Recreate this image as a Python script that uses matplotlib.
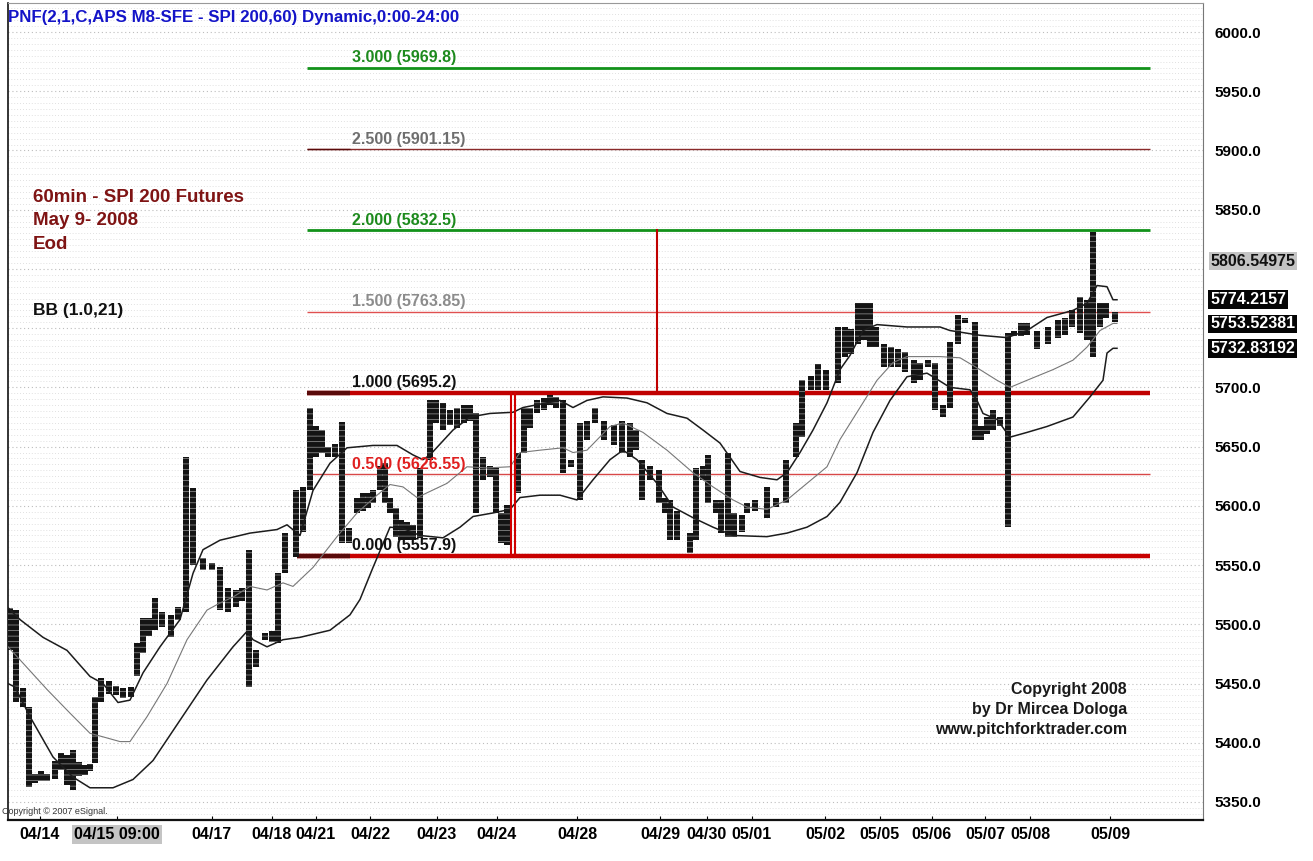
import numpy as np
import matplotlib.pyplot as plt
from matplotlib.transforms import blended_transform_factory

plt.rcParams['font.family'] = ['Liberation Sans', 'DejaVu Sans']

# point & figure columns: position, low, high
col_x = [10, 16, 23, 29, 35, 41, 47, 55, 61, 67, 73, 79, 85, 90, 95, 101, 109, 116, 123, 131,
         137, 143, 149, 155, 162, 171, 178, 186, 193, 203, 212, 220, 228, 236, 242, 249, 256, 265, 272, 278,
         285, 296, 303, 310, 316, 322, 328, 335, 342, 349, 357, 363, 368, 373, 380, 385, 390, 396, 401, 407,
         413, 420, 430, 436, 443, 450, 457, 464, 470, 476, 483, 490, 496, 501, 507, 518, 524, 530, 537, 544,
         550, 556, 563, 571, 580, 587, 595, 604, 614, 622, 630, 636, 642, 650, 659, 665, 670, 677, 690, 696,
         703, 708, 716, 721, 728, 734, 742, 747, 755, 767, 776, 786, 796, 802, 811, 818, 826, 838, 845, 851,
         858, 864, 870, 876, 884, 891, 898, 905, 914, 920, 928, 935, 943, 950, 958, 965, 975, 981, 987, 993,
         1000, 1008, 1014, 1021, 1027, 1037, 1048, 1058, 1065, 1072, 1080, 1087, 1093, 1100, 1106, 1115]
col_lo = [5478, 5434, 5430, 5363, 5366, 5368, 5368, 5369, 5377, 5364, 5360, 5372, 5373, 5376, 5383, 5434, 5441, 5440, 5438, 5439,
          5456, 5476, 5490, 5495, 5498, 5489, 5504, 5510, 5550, 5546, 5546, 5512, 5510, 5515, 5520, 5447, 5464, 5487, 5485, 5484,
          5543, 5557, 5578, 5613, 5641, 5645, 5641, 5641, 5569, 5569, 5594, 5596, 5598, 5602, 5613, 5602, 5594, 5574, 5571, 5571,
          5571, 5573, 5639, 5670, 5664, 5668, 5666, 5670, 5672, 5594, 5622, 5624, 5594, 5569, 5567, 5611, 5645, 5666, 5678, 5681,
          5685, 5683, 5628, 5633, 5605, 5656, 5670, 5656, 5651, 5645, 5641, 5647, 5605, 5622, 5602, 5594, 5571, 5571, 5560, 5571,
          5622, 5602, 5594, 5577, 5574, 5574, 5578, 5594, 5596, 5590, 5599, 5602, 5641, 5658, 5698, 5698, 5698, 5704, 5726, 5728,
          5737, 5740, 5734, 5734, 5717, 5717, 5717, 5713, 5704, 5706, 5717, 5681, 5675, 5683, 5737, 5754, 5656, 5656, 5661, 5664,
          5667, 5582, 5743, 5743, 5744, 5732, 5737, 5742, 5744, 5751, 5746, 5740, 5726, 5751, 5759, 5755]
col_hi = [5514, 5512, 5446, 5430, 5374, 5376, 5374, 5385, 5391, 5390, 5394, 5384, 5381, 5382, 5439, 5455, 5452, 5448, 5446, 5447,
          5484, 5505, 5505, 5522, 5510, 5508, 5515, 5641, 5615, 5556, 5552, 5548, 5531, 5529, 5531, 5563, 5478, 5493, 5494, 5543,
          5577, 5613, 5616, 5683, 5667, 5664, 5650, 5652, 5671, 5581, 5607, 5611, 5611, 5613, 5634, 5636, 5607, 5598, 5588, 5586,
          5584, 5632, 5689, 5689, 5687, 5681, 5683, 5685, 5685, 5678, 5641, 5634, 5632, 5594, 5601, 5645, 5683, 5683, 5689, 5691,
          5694, 5692, 5689, 5639, 5670, 5672, 5683, 5672, 5668, 5672, 5670, 5664, 5639, 5634, 5630, 5607, 5605, 5596, 5577, 5632,
          5634, 5643, 5605, 5605, 5645, 5594, 5592, 5602, 5605, 5616, 5607, 5639, 5670, 5706, 5710, 5720, 5715, 5751, 5751, 5749,
          5771, 5771, 5771, 5751, 5737, 5734, 5732, 5730, 5723, 5721, 5723, 5721, 5685, 5738, 5761, 5759, 5755, 5667, 5675, 5681,
          5675, 5746, 5748, 5754, 5754, 5748, 5751, 5757, 5759, 5765, 5776, 5774, 5831, 5771, 5771, 5764]

# Bollinger bands (1.0, 21)
bb_up_x = [8, 20, 43, 67, 90, 103, 118, 130, 143, 160, 180, 193, 203, 220, 250, 277, 287, 300, 313, 330,
           347, 373, 397, 413, 423, 430, 453, 470, 490, 513, 523, 547, 560, 573, 587, 603, 627, 647, 667, 687,
           703, 720, 740, 760, 777, 787, 800, 813, 827, 840, 850, 863, 877, 907, 940, 950, 980, 1007, 1027, 1047,
           1073, 1087, 1097, 1107, 1113, 1117]
bb_up = [5514, 5504, 5489, 5478, 5456, 5450, 5434, 5436, 5459, 5481, 5504, 5543, 5563, 5571, 5577, 5580, 5584, 5575, 5613, 5636,
         5649, 5651, 5651, 5643, 5639, 5643, 5664, 5675, 5678, 5679, 5683, 5687, 5689, 5683, 5689, 5692, 5691, 5687, 5678, 5674,
         5664, 5653, 5629, 5624, 5622, 5628, 5645, 5664, 5687, 5715, 5727, 5748, 5753, 5751, 5751, 5748, 5744, 5742, 5748, 5759,
         5765, 5771, 5786, 5785, 5774, 5774]
bb_mid_x = [8, 20, 47, 70, 90, 103, 120, 130, 147, 167, 187, 207, 220, 233, 250, 267, 283, 293, 313, 337,
            357, 377, 390, 403, 417, 427, 447, 467, 487, 510, 520, 540, 563, 573, 587, 610, 623, 643, 667, 693,
            713, 733, 747, 767, 787, 807, 827, 840, 860, 877, 893, 907, 940, 960, 980, 997, 1010, 1027, 1053, 1073,
            1087, 1100, 1113, 1117]
bb_mid = [5481, 5470, 5445, 5425, 5408, 5405, 5401, 5401, 5422, 5450, 5487, 5512, 5518, 5523, 5532, 5529, 5535, 5532, 5548, 5574,
          5594, 5609, 5618, 5616, 5607, 5611, 5619, 5633, 5632, 5633, 5645, 5647, 5649, 5645, 5647, 5667, 5670, 5662, 5647, 5628,
          5616, 5605, 5599, 5597, 5605, 5619, 5633, 5656, 5683, 5706, 5721, 5726, 5726, 5725, 5715, 5706, 5700, 5706, 5715, 5723,
          5734, 5748, 5754, 5754]
bb_lo_x = [8, 15, 30, 53, 73, 90, 113, 133, 153, 180, 207, 233, 247, 253, 267, 283, 300, 330, 350, 360,
           373, 390, 403, 420, 443, 460, 473, 493, 510, 520, 540, 560, 577, 593, 610, 623, 637, 657, 673, 693,
           713, 733, 767, 787, 807, 827, 840, 857, 873, 890, 907, 927, 933, 950, 970, 977, 983, 997, 1010, 1027,
           1047, 1073, 1090, 1103, 1107, 1113, 1117]
bb_lo = [5450, 5447, 5422, 5388, 5371, 5362, 5362, 5369, 5385, 5419, 5453, 5481, 5494, 5487, 5481, 5487, 5489, 5495, 5508, 5521,
         5548, 5582, 5581, 5575, 5573, 5582, 5591, 5594, 5597, 5607, 5609, 5609, 5605, 5622, 5639, 5647, 5639, 5619, 5599, 5590,
         5582, 5575, 5574, 5577, 5582, 5591, 5603, 5628, 5662, 5689, 5709, 5712, 5709, 5700, 5698, 5689, 5678, 5673, 5658, 5662,
         5667, 5675, 5692, 5706, 5729, 5733, 5733]

# pitchfork / fibonacci levels
lvl_val = [5969.8, 5901.15, 5832.5, 5763.85, 5695.2, 5626.55, 5557.9]
lvl_lbl = ["3.000 (5969.8)", "2.500 (5901.15)", "2.000 (5832.5)", "1.500 (5763.85)",
           "1.000 (5695.2)", "0.500 (5626.55)", "0.000 (5557.9)"]
lvl_col = ['#12921a', '#8a2a2a', '#12921a', '#e05050', '#c00000', '#d84848', '#c80000']
lvl_lw = [2.0, 1.0, 2.0, 1.0, 3.2, 1.0, 3.2]
lvl_txt = ['#1d8a1d', '#6e6e6e', '#1d8a1d', '#8c8c8c', '#111111', '#e02020', '#111111']
lvl_dark = [False, True, False, False, True, False, True]

date_pos = [40, 117, 212, 272, 316, 370, 437, 497, 577, 660, 707, 752, 825, 880, 932, 985, 1030, 1110]
date_lbl = ['04/14', '04/15 09:00', '04/17', '04/18', '04/21', '04/22', '04/23', '04/24', '04/28',
            '04/29', '04/30', '05/01', '05/02', '05/05', '05/06', '05/07', '05/08', '05/09']

last_vals = [5806.54975, 5774.2157, 5753.52381, 5732.83192]

fig = plt.figure(figsize=(13.13, 8.61), dpi=100)
ax = fig.add_axes([8/1313, 41/861, 1195/1313, 817/861])
ax.set_xlim(8, 1203)
ax.set_ylim(5334.8, 6024.5)

# dotted background
ax.set_yticks(np.arange(5340, 6025, 5), minor=True)
ax.grid(which='minor', axis='y', color='#d6d6d6', linestyle=(0, (1, 2.5)), lw=0.6, zorder=0)
ax.grid(which='major', axis='y', color='#bdbdbd', linestyle=(0, (1, 2.5)), lw=0.8, zorder=0)

lo = np.array(col_lo)
hi = np.array(col_hi)
ax.bar(col_x, hi - lo, bottom=lo, width=6.6, color='#141414', linewidth=0, zorder=4)
plt.rcParams['hatch.linewidth'] = 0.5
ax.bar(col_x, hi - lo, bottom=lo, width=6.6, fill=False, edgecolor='#9a9a9a', hatch='---', linewidth=0, zorder=4)

ax.plot(bb_up_x, bb_up, color='#1c1c1c', lw=1.1, zorder=5)
ax.plot(bb_lo_x, bb_lo, color='#1c1c1c', lw=1.1, zorder=5)
ax.plot(bb_mid_x, bb_mid, color='#777777', lw=0.8, zorder=5)

for v, t, c, lw, tc, dk in zip(lvl_val, lvl_lbl, lvl_col, lvl_lw, lvl_txt, lvl_dark):
    x0 = 297 if v == lvl_val[-1] else 307
    ax.plot([x0, 1150], [v, v], color=c, lw=lw, zorder=3, solid_capstyle='butt')
    if dk:
        ax.plot([x0, 350], [v, v], color='#5a0a0a', lw=lw, zorder=3, solid_capstyle='butt')
    ax.text(352, v + 2.2, t, color=tc, fontsize=11.5, fontweight='bold', va='bottom', ha='left', zorder=6)

ax.plot([657, 657], [lvl_val[2], lvl_val[4]], color='#c00000', lw=1.5, zorder=3)
ax.plot([511, 511], [lvl_val[6], lvl_val[4]], color='#d00000', lw=1.5, zorder=6)
ax.plot([515, 515], [lvl_val[6], lvl_val[4]], color='#d00000', lw=1.5, zorder=6)

# texts
ax.text(0.0, 0.992, 'PNF(2,1,C,APS M8-SFE - SPI 200,60) Dynamic,0:00-24:00', transform=ax.transAxes,
        color='#1414c8', fontsize=12.2, fontweight='bold', va='top', ha='left')
for i, s in enumerate(['60min - SPI 200 Futures', 'May 9- 2008', 'Eod']):
    ax.text(33, 5860 - i * 19.5, s, color='#7f1414', fontsize=13.5, fontweight='bold', va='center')
ax.text(33, 5765, 'BB (1.0,21)', color='#111111', fontsize=12.5, fontweight='bold', va='center')
for i, s in enumerate(['Copyright 2008', 'by Dr Mircea Dologa', 'www.pitchforktrader.com']):
    ax.text(1127, 5445 - i * 17, s, color='#1a1a1a', fontsize=11.5, fontweight='bold', ha='right', va='center')
ax.text(2, 5342, 'Copyright \u00a9 2007 eSignal.', color='#333333', fontsize=6.5, va='center')

# right axis (5750 and 5800 sit under the last-value boxes)
yt = np.arange(5350, 6001, 50)
ax.yaxis.tick_right()
ax.set_yticks(yt)
ax.set_yticklabels(['' if v in (5750, 5800) else '%.1f' % v for v in yt], fontsize=11, fontweight='bold')
ax.tick_params(axis='y', which='both', length=0, pad=8)

tr = blended_transform_factory(ax.transAxes, ax.transData)
for i, v in enumerate(last_vals):
    if i == 0:
        ax.text(1.006, v, '%.5f' % v, transform=tr, fontsize=11.5, fontweight='bold', color='#111111',
                va='center', ha='left', clip_on=False, zorder=10,
                bbox=dict(boxstyle='square,pad=0.1', fc='#c4c4c4', ec='none'))
    else:
        ax.text(1.006, v, ('%.5f' % v).rstrip('0'), transform=tr, fontsize=11.5, fontweight='bold', color='white',
                va='center', ha='left', clip_on=False, zorder=10,
                bbox=dict(boxstyle='square,pad=0.12', fc='#050505', ec='none'))

ax.set_xticks(date_pos)
ax.set_xticklabels(date_lbl, fontsize=11.5, fontweight='bold')
ax.tick_params(axis='x', length=3, direction='in', pad=5)
ax.get_xticklabels()[1].set_bbox(dict(boxstyle='square,pad=0.15', fc='#c4c4c4', ec='none'))

for s in ['left', 'bottom']:
    ax.spines[s].set_color('#111111')
ax.spines['bottom'].set_linewidth(1.6)
ax.spines['left'].set_linewidth(1.2)
ax.spines['right'].set_color('#777777')
ax.spines['top'].set_color('#999999')

fig.savefig('out.png', dpi=100)
